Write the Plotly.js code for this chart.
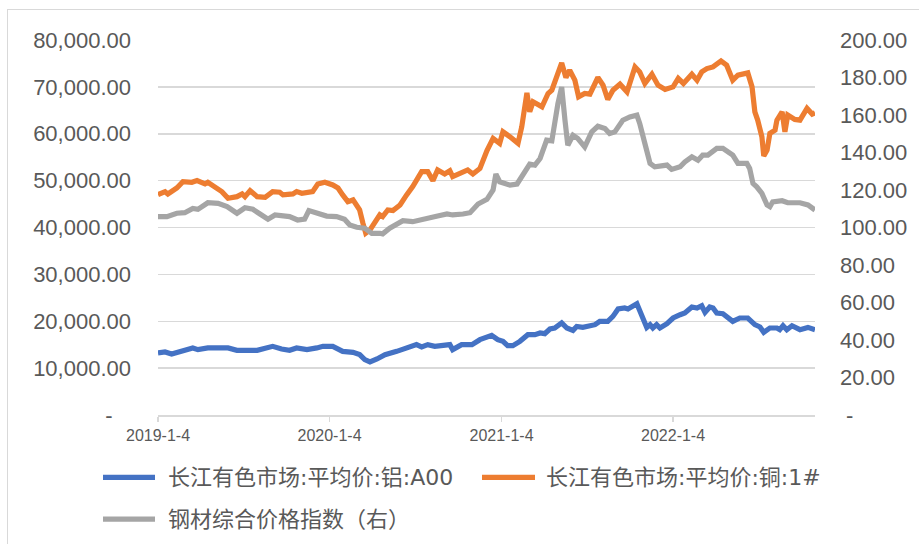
<!DOCTYPE html>
<html>
<head>
<meta charset="utf-8">
<script src="https://cdn.plot.ly/plotly-3.0.1.min.js"></script>
<style>
html,body{margin:0;padding:0;width:919px;height:544px;overflow:hidden;background:#fff;}
#frame{position:absolute;left:7px;top:9px;width:1000px;height:1000px;border-top:1.5px solid #d9d9d9;border-left:1.5px solid #d9d9d9;}
#chart{position:absolute;left:0;top:0;width:919px;height:544px;}
</style>
</head>
<body>
<div id="frame"></div>
<div id="chart"></div>
<script>
// ---- data ----
const seriesNames = ['长江有色市场:平均价:铝:A00', '长江有色市场:平均价:铜:1#', '钢材综合价格指数（右）'];

const alDates = ['2019-01-04','2019-01-19','2019-02-02','2019-02-24','2019-03-19','2019-03-30','2019-04-20','2019-06-02','2019-06-21','2019-08-03','2019-08-20','2019-09-05','2019-09-24','2019-10-11','2019-10-26','2019-11-17','2019-12-08','2019-12-21','2020-01-11','2020-02-01','2020-02-23','2020-03-08','2020-03-19','2020-03-30','2020-04-14','2020-05-01','2020-05-26','2020-06-16','2020-07-07','2020-07-18','2020-07-31','2020-08-15','2020-09-01','2020-09-16','2020-09-22','2020-10-11','2020-11-02','2020-11-19','2020-12-14','2020-12-27','2021-01-07','2021-01-17','2021-01-28','2021-02-12','2021-03-01','2021-03-16','2021-03-27','2021-04-06','2021-04-17','2021-04-27','2021-05-12','2021-05-23','2021-06-05','2021-06-13','2021-06-26','2021-07-05','2021-07-22','2021-08-01','2021-08-18','2021-08-29','2021-09-09','2021-09-23','2021-09-30','2021-10-19','2021-10-29','2021-11-09','2021-11-16','2021-11-22','2021-11-30','2021-12-07','2021-12-22','2022-01-04','2022-01-19','2022-01-29','2022-02-13','2022-02-24','2022-03-06','2022-03-13','2022-03-23','2022-03-30','2022-04-07','2022-04-20','2022-05-11','2022-05-26','2022-06-12','2022-06-27','2022-07-08','2022-07-16','2022-07-29','2022-08-13','2022-08-19','2022-08-26','2022-09-03','2022-09-14','2022-10-01','2022-10-18','2022-11-02'];
const alValues = [13240,13450,13030,13580,14310,13950,14310,14310,13800,13800,14310,14650,14090,13800,14310,13950,14310,14650,14650,13580,13370,12880,11820,11330,11960,12880,13580,14310,15010,14520,15010,14650,14860,15010,13950,15010,15010,16070,16990,16070,15710,14800,14800,15710,17140,17140,17500,17350,18350,18560,19630,18560,18050,18900,18690,18900,19270,19970,19970,21030,22610,22820,22610,23740,21400,18690,19270,18560,19270,18560,19480,20690,21400,21760,23040,22820,23310,21890,23040,22820,21760,21610,19970,20690,20690,19270,18780,17630,18560,18560,18200,19050,18200,19050,18200,18690,18200];

const cuDates = ['2019-01-04','2019-01-19','2019-01-25','2019-02-13','2019-02-26','2019-03-17','2019-03-28','2019-04-14','2019-04-20','2019-05-10','2019-05-20','2019-06-02','2019-06-21','2019-07-02','2019-07-08','2019-07-19','2019-08-03','2019-08-20','2019-09-05','2019-09-20','2019-09-27','2019-10-18','2019-10-26','2019-11-06','2019-11-17','2019-11-29','2019-12-10','2019-12-25','2020-01-11','2020-01-22','2020-02-01','2020-02-12','2020-02-23','2020-03-02','2020-03-08','2020-03-15','2020-03-21','2020-03-30','2020-04-09','2020-04-20','2020-04-26','2020-05-07','2020-05-18','2020-06-02','2020-06-16','2020-06-29','2020-07-18','2020-07-31','2020-08-11','2020-08-21','2020-09-05','2020-09-16','2020-09-22','2020-10-11','2020-10-24','2020-11-04','2020-11-15','2020-11-19','2020-12-04','2020-12-17','2020-12-31','2021-01-07','2021-01-22','2021-02-08','2021-02-16','2021-02-27','2021-03-05','2021-03-12','2021-03-31','2021-04-13','2021-04-21','2021-05-12','2021-05-21','2021-05-29','2021-06-09','2021-06-17','2021-06-30','2021-07-11','2021-07-28','2021-08-08','2021-08-18','2021-08-29','2021-09-13','2021-09-28','2021-10-15','2021-10-25','2021-11-05','2021-11-20','2021-12-03','2021-12-18','2022-01-04','2022-01-15','2022-01-26','2022-02-13','2022-02-24','2022-03-06','2022-03-17','2022-03-30','2022-04-16','2022-04-28','2022-05-11','2022-05-22','2022-06-12','2022-06-21','2022-06-27','2022-07-03','2022-07-12','2022-07-16','2022-07-23','2022-07-29','2022-08-09','2022-08-13','2022-08-24','2022-08-30','2022-09-05','2022-09-20','2022-10-01','2022-10-16','2022-10-27','2022-11-02'];
const cuValues = [47000,47650,47160,48430,49780,49650,50000,49290,49650,48430,47650,46240,46580,47160,46580,47860,46580,46450,47650,47520,46950,47160,47650,47300,47440,47650,49290,49650,49070,48430,46950,45520,45880,44820,43750,40920,38790,39490,41260,42690,42320,43750,43600,44820,46950,48710,51900,51900,50000,52270,51420,52120,50840,51560,52270,51420,52270,52600,56400,59010,57950,60420,59360,57950,61480,68720,64680,66810,65740,68580,69300,75110,72000,73560,71430,67870,68580,68450,72000,70360,67310,69300,70580,68940,74260,73200,70730,72700,70360,69450,70000,71790,70730,72700,71430,73200,73910,74260,75540,74620,71430,72490,72980,70000,64680,62910,59360,55250,56520,60080,60780,62910,64680,60420,63980,63060,62910,65400,64190,64470];

const steelDates = ['2019-01-04','2019-01-23','2019-02-13','2019-03-02','2019-03-19','2019-03-30','2019-04-20','2019-05-12','2019-05-31','2019-06-21','2019-07-08','2019-07-25','2019-08-09','2019-08-26','2019-09-10','2019-09-24','2019-10-11','2019-10-28','2019-11-12','2019-11-21','2019-12-08','2019-12-29','2020-01-19','2020-02-05','2020-02-16','2020-03-02','2020-03-19','2020-04-03','2020-04-20','2020-04-26','2020-05-11','2020-05-26','2020-06-08','2020-06-29','2020-07-18','2020-08-04','2020-08-21','2020-09-10','2020-09-22','2020-10-14','2020-10-29','2020-11-15','2020-12-04','2020-12-17','2020-12-23','2020-12-31','2021-01-22','2021-02-06','2021-02-18','2021-03-05','2021-03-16','2021-03-27','2021-04-10','2021-04-21','2021-05-04','2021-05-12','2021-05-19','2021-05-25','2021-06-05','2021-06-15','2021-06-30','2021-07-15','2021-07-28','2021-08-12','2021-08-22','2021-09-02','2021-09-19','2021-10-04','2021-10-19','2021-10-25','2021-11-05','2021-11-16','2021-11-26','2021-12-11','2021-12-22','2022-01-01','2022-01-19','2022-01-29','2022-02-13','2022-02-26','2022-03-08','2022-03-19','2022-04-07','2022-04-20','2022-05-11','2022-05-22','2022-06-10','2022-06-16','2022-06-23','2022-07-01','2022-07-12','2022-07-23','2022-07-29','2022-08-04','2022-08-24','2022-09-05','2022-09-20','2022-10-01','2022-10-18','2022-11-02'];
const steelValues = [105.8,105.8,107.6,107.9,110.2,109.7,113.2,112.9,111.1,107.6,110.5,109.7,107.2,104.4,106.7,106.1,105.8,104.0,104.5,109.0,107.9,106.1,105.8,104.4,101.3,100.1,99.6,96.9,96.9,96.6,99.6,101.9,103.6,103.1,104.4,105.4,106.1,107.2,106.7,107.2,107.9,112.5,115.0,120.0,128.5,124.4,122.6,123.2,127.9,133.8,133.3,136.8,146.6,146.2,166.1,174.9,157.2,143.9,149.2,147.5,143.0,151.0,154.0,152.8,150.1,151.0,157.2,159.0,159.9,155.5,144.8,134.2,132.4,133.3,133.3,131.0,132.4,135.0,137.7,135.9,138.6,138.6,142.2,142.2,138.6,134.2,134.2,131.5,123.5,121.7,118.2,112.0,111.1,113.7,114.3,113.2,112.9,113.2,112.0,109.3];

const leftTickVals = [0,10000,20000,30000,40000,50000,60000,70000,80000];
const leftTickText = ['-\u00a0\u00a0\u00a0','10,000.00','20,000.00','30,000.00','40,000.00','50,000.00','60,000.00','70,000.00','80,000.00'];
const rightTickVals = [0,20,40,60,80,100,120,140,160,180,200];
const rightTickText = ['\u00a0-','20.00','40.00','60.00','80.00','100.00','120.00','140.00','160.00','180.00','200.00'];
const xTickVals = ['2019-01-04','2020-01-04','2021-01-04','2022-01-04'];
const xTickText = ['2019-1-4','2020-1-4','2021-1-4','2022-1-4'];
const colors = ['#4472C4','#ED7D31','#A5A5A5'];

// ---- chart ----
const lineStyle = c => ({color: c, width: 5.2, shape: 'linear'});
const traces = [
  {x: alDates, y: alValues, name: seriesNames[0], type: 'scatter', mode: 'lines', line: lineStyle(colors[0]), yaxis: 'y', showlegend: false},
  {x: cuDates, y: cuValues, name: seriesNames[1], type: 'scatter', mode: 'lines', line: lineStyle(colors[1]), yaxis: 'y', showlegend: false},
  {x: steelDates, y: steelValues, name: seriesNames[2], type: 'scatter', mode: 'lines', line: lineStyle(colors[2]), yaxis: 'y2', showlegend: false}
];

// legend geometry (pixels), converted to paper coordinates
const plotL = 158, plotR = 815, plotT = 39.5, plotB = 415.5;
const px = v => (v - plotL) / (plotR - plotL);
const py = v => (plotB - v) / (plotB - plotT);
const legendItems = [
  {x0: 103, x1: 155, y: 478, tx: 166},
  {x0: 482, x1: 535, y: 478, tx: 544},
  {x0: 103, x1: 155, y: 520, tx: 166}
];
const shapes = legendItems.map((it, i) => ({
  type: 'line', xref: 'paper', yref: 'paper',
  x0: px(it.x0), x1: px(it.x1), y0: py(it.y), y1: py(it.y),
  line: {color: colors[i], width: 5.2}
}));
const annotations = legendItems.map((it, i) => ({
  xref: 'paper', yref: 'paper', x: px(it.tx), y: py(it.y),
  xanchor: 'left', yanchor: 'middle', showarrow: false,
  text: seriesNames[i],
  font: {family: '"DejaVu Sans", "Noto Sans CJK SC", sans-serif', size: 22, color: '#595959'}
}));

const layout = {
  width: 919, height: 544,
  margin: {l: plotL, r: 919 - plotR, t: plotT, b: 544 - plotB, pad: 0},
  paper_bgcolor: 'rgba(0,0,0,0)', plot_bgcolor: 'rgba(0,0,0,0)',
  showlegend: false,
  font: {family: '"Liberation Sans", Arial, sans-serif', color: '#595959'},
  xaxis: {
    type: 'date', range: ['2019-01-04', '2022-11-02'],
    tickvals: xTickVals, ticktext: xTickText,
    showgrid: false, zeroline: false,
    showline: true, linecolor: '#d9d9d9', linewidth: 1.5,
    ticks: 'outside', ticklen: 5, tickcolor: '#d9d9d9', tickwidth: 1.5,
    tickfont: {size: 16, color: '#595959', family: '"Liberation Sans Narrow", "Liberation Sans", sans-serif'}
  },
  yaxis: {
    range: [0, 80000], tickvals: leftTickVals, ticktext: leftTickText,
    showgrid: true, gridcolor: '#d9d9d9', gridwidth: 1.5,
    zeroline: false, showline: false, ticks: '',
    ticklabelstandoff: 26,
    tickfont: {size: 22, color: '#595959'}
  },
  yaxis2: {
    overlaying: 'y', side: 'right',
    range: [0, 200], tickvals: rightTickVals, ticktext: rightTickText,
    showgrid: false, zeroline: false, showline: false, ticks: '',
    ticklabelstandoff: 24,
    tickfont: {size: 22, color: '#595959'}
  },
  shapes: shapes,
  annotations: annotations
};

Plotly.newPlot('chart', traces, layout, {displayModeBar: false, staticPlot: true});
</script>
</body>
</html>
